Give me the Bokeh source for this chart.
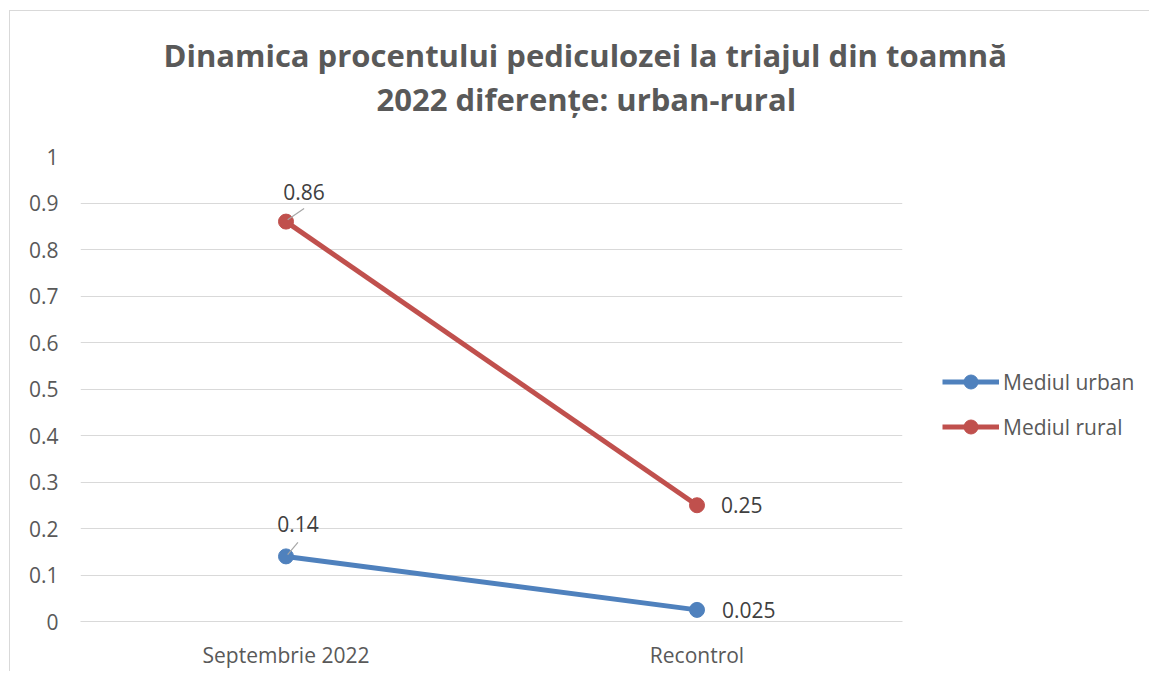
from bokeh.plotting import figure
from bokeh.models import (ColumnDataSource, Legend, LegendItem, Title, Range1d, FactorRange,
                          FixedTicker, CustomJSTickFormatter, LabelSet)
from bokeh.transform import dodge
from bokeh.core.properties import value
from bokeh.embed import file_html
from bokeh.resources import INLINE

# ---- data ----
categories = ["Septembrie 2022", "Recontrol"]
series_names = ["Mediul urban", "Mediul rural"]
urban_values = [0.14, 0.025]
rural_values = [0.86, 0.25]
urban_labels = ["0.14", "0.025"]
rural_labels = ["0.86", "0.25"]
y_ticks = [0, 0.1, 0.2, 0.3, 0.4, 0.5, 0.6, 0.7, 0.8, 0.9, 1]
title_lines = ["Dinamica procentului  pediculozei la triajul din toamnă",
               "2022 diferențe: urban-rural"]

# ---- style ----
FONT = "Open Sans"
GREY = "#595959"
LABEL_GREY = "#404040"
GRID = "#D9D9D9"
COLORS = ["#4F81BD", "#C0504D"]
TEXT_SIZE = "21px"

p = figure(x_range=FactorRange(*categories, range_padding=0), y_range=Range1d(0, 1),
           frame_width=822, frame_height=465,
           min_border_left=70, min_border_right=246, min_border_top=145, min_border_bottom=50,
           output_backend="svg", toolbar_location=None, title=None)
p.styles = {"margin-left": "9px", "margin-top": "10px",
            "border-top": "1px solid #D9D9D9", "border-left": "1px solid #D9D9D9"}
p.outline_line_color = None
p.background_fill_color = "white"
p.border_fill_color = "white"

# axes
p.yaxis.ticker = FixedTicker(ticks=y_ticks)
p.yaxis.formatter = CustomJSTickFormatter(code="return String(Math.round(tick*10)/10);")
p.yaxis.axis_line_color = None
p.yaxis.major_tick_line_color = None
p.yaxis.minor_tick_line_color = None
p.yaxis.major_tick_out = 0
p.yaxis.major_tick_in = 0
p.yaxis.major_label_standoff = 22
p.yaxis.major_label_text_font = FONT
p.yaxis.major_label_text_font_size = TEXT_SIZE
p.yaxis.major_label_text_color = GREY

p.xaxis.axis_line_color = GRID
p.xaxis.axis_line_width = 1
p.xaxis.major_tick_line_color = None
p.xaxis.minor_tick_line_color = None
p.xaxis.major_tick_out = 0
p.xaxis.major_tick_in = 0
p.xaxis.major_label_standoff = 19
p.xaxis.major_label_text_font = FONT
p.xaxis.major_label_text_font_size = TEXT_SIZE
p.xaxis.major_label_text_color = GREY

p.xgrid.grid_line_color = None
p.ygrid.grid_line_color = GRID
p.ygrid.grid_line_width = 1

# series
items = []
all_values = [urban_values, rural_values]
all_labels = [urban_labels, rural_labels]
for name, vals, color in zip(series_names, all_values, COLORS):
    src = ColumnDataSource(dict(x=categories, y=vals))
    ln = p.line("x", "y", source=src, line_color=color, line_width=5)
    sc = p.scatter("x", "y", source=src, size=15, fill_color=color, line_color=color)
    items.append(LegendItem(label=name, renderers=[ln, sc]))

# leader lines for first-category labels (offsets in data units)
LEADER = {0: (0.004, 0.004, 0.029, 0.030), 1: (0.004, 0.004, 0.044, 0.028)}
for si, vals in enumerate(all_values):
    dx0, dy0, dx1, dy1 = LEADER[si]
    src = ColumnDataSource(dict(x=[categories[0]], y0=[vals[0] + dy0], y1=[vals[0] + dy1]))
    p.segment(x0=dodge("x", dx0, range=p.x_range), y0="y0",
              x1=dodge("x", dx1, range=p.x_range), y1="y1",
              source=src, line_color="#A6A6A6", line_width=1.2)

# data labels
OFFSETS = {(0, 0): (12, 32, "center"), (0, 1): (25, 0, "left"),
           (1, 0): (18, 30, "center"), (1, 1): (24, 0, "left")}
for si, (vals, labs) in enumerate(zip(all_values, all_labels)):
    for ci in range(len(categories)):
        xo, yo, al = OFFSETS[(si, ci)]
        src = ColumnDataSource(dict(x=[categories[ci]], y=[vals[ci]], t=[labs[ci]]))
        p.add_layout(LabelSet(x="x", y="y", text="t", source=src, x_offset=xo, y_offset=yo,
                              text_align=al, text_baseline="middle", text_font=value(FONT),
                              text_font_size=value(TEXT_SIZE), text_color=value(LABEL_GREY)))

# legend
legend = Legend(items=items, location=(40, 177), orientation="vertical",
                label_text_font=FONT, label_text_font_size=TEXT_SIZE, label_text_color=GREY,
                glyph_width=57, glyph_height=35, label_height=35, label_standoff=4,
                spacing=10, padding=8, margin=0, border_line_color=None,
                background_fill_alpha=0)
p.add_layout(legend, "right")

# title: spacer closest to the plot, then the two lines stacked outward
p.add_layout(Title(text=" ", text_font_size="1px", standoff=34), "above")
TITLE_OFFSETS = [83, 296]
for line, off in zip(reversed(title_lines), reversed(TITLE_OFFSETS)):
    p.add_layout(Title(text=line, align="left", offset=off, standoff=0,
                       text_font=FONT, text_font_size="31px", text_font_style="bold",
                       text_color=GREY), "above")

open("out.html", "w").write(file_html(p, INLINE))
